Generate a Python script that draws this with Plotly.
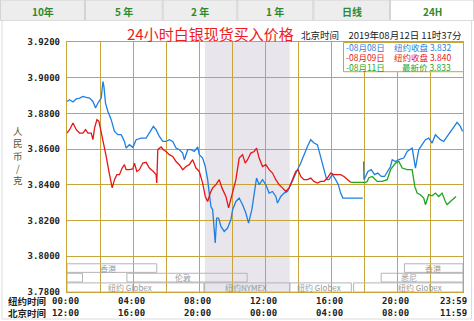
import plotly.graph_objects as go

# ---------------- data (hours NY time, price CNY/g) ----------------
blue1_h = [0, 0.157, 0.363, 0.562, 0.762, 0.967, 1.167, 1.366, 1.572, 1.729, 1.874, 2.074, 2.177, 2.237, 2.334,
           2.479, 2.678, 2.878, 3.083, 3.283, 3.482, 3.585, 3.785, 3.990, 4.190, 4.492, 4.794, 4.994, 5.236,
           5.399, 5.599, 5.804, 6.004, 6.203, 6.409, 6.608, 6.808, 7.013, 7.110, 7.316, 7.515, 7.715, 7.920,
           8.017, 8.222, 8.380, 8.525, 8.621, 8.724, 8.827, 8.984, 9.069, 9.190, 9.329, 9.528, 9.734, 9.933,
           10.036, 10.236, 10.435, 10.641, 10.840, 11.004, 11.203, 11.342, 11.487, 11.644, 11.850, 12.050,
           12.249, 12.455, 12.654, 12.757, 12.956, 13.156, 13.362, 13.561, 13.761, 13.966, 14.166, 14.365,
           14.571, 14.770, 14.970, 15.175, 15.375, 15.574, 15.738, 15.877, 16.082, 16.282, 16.445, 16.584,
           16.723, 16.928, 17.231, 17.733, 17.932]
blue1_v = [3.8867, 3.8877, 3.8864, 3.8881, 3.8886, 3.8895, 3.8890, 3.8886, 3.8867, 3.8830, 3.8858, 3.8886,
           3.8979, 3.8951, 3.8858, 3.8811, 3.8765, 3.8699, 3.8681, 3.8681, 3.8643, 3.8606, 3.8625, 3.8610,
           3.8653, 3.8662, 3.8662, 3.8690, 3.8727, 3.8709, 3.8671, 3.8643, 3.8643, 3.8653, 3.8643, 3.8606,
           3.8597, 3.8578, 3.8541, 3.8597, 3.8597, 3.8587, 3.8612, 3.8569, 3.8550, 3.8503, 3.8429, 3.8354,
           3.8279, 3.8261, 3.8074, 3.8214, 3.8214, 3.8167, 3.8139, 3.8158, 3.8205, 3.8261, 3.8307, 3.8326,
           3.8289, 3.8242, 3.8186, 3.8261, 3.8354, 3.8438, 3.8401, 3.8429, 3.8401, 3.8354, 3.8363, 3.8335,
           3.8298, 3.8335, 3.8354, 3.8363, 3.8401, 3.8447, 3.8485, 3.8522, 3.8569, 3.8615, 3.8653, 3.8634,
           3.8625, 3.8559, 3.8494, 3.8429, 3.8429, 3.8457, 3.8429, 3.8401, 3.8354, 3.8326, 3.8326, 3.8326,
           3.8326, 3.8326]

blue2_h = [17.975, 18.00, 18.096, 18.235, 18.440, 18.640, 18.839, 19.045, 19.244, 19.444, 19.607, 19.710,
           19.909, 20.109, 20.411, 20.617, 20.919, 21.118, 21.318, 21.524, 21.723, 21.923, 22.128, 22.328,
           22.630, 22.830, 23.035, 23.235, 23.434, 23.640, 23.839, 23.978]
blue2_v = [3.8531, 3.8429, 3.8447, 3.8475, 3.8485, 3.8457, 3.8466, 3.8447, 3.8447, 3.8475, 3.8503, 3.8541,
           3.8531, 3.8541, 3.8550, 3.8587, 3.8606, 3.8494, 3.8597, 3.8625, 3.8653, 3.8662, 3.8634, 3.8681,
           3.8653, 3.8643, 3.8671, 3.8699, 3.8727, 3.8750, 3.8727, 3.8699]

red_h = [0, 0.157, 0.363, 0.562, 0.762, 0.967, 1.125, 1.270, 1.469, 1.572, 1.669, 1.814, 1.935, 2.074, 2.213,
         2.376, 2.539, 2.636, 2.739, 2.878, 3.023, 3.180, 3.343, 3.482, 3.585, 3.785, 3.990, 4.087, 4.232,
         4.389, 4.595, 4.794, 4.994, 5.236, 5.399, 5.441, 5.502, 5.701, 5.840, 6.004, 6.203, 6.409, 6.608,
         6.808, 7.013, 7.213, 7.412, 7.618, 7.817, 8.017, 8.222, 8.380, 8.525, 8.682, 8.827, 9.027, 9.226,
         9.389, 9.528, 9.631, 9.794, 9.933, 10.097, 10.236, 10.435, 10.641, 10.798, 10.943, 11.143, 11.342,
         11.487, 11.644, 11.850, 12.050, 12.249, 12.455, 12.654, 12.854, 13.059, 13.259, 13.458, 13.664,
         13.863, 14.002, 14.166, 14.365, 14.571, 14.770, 14.970, 15.175, 15.375, 15.574, 15.780, 15.979,
         16.179, 16.384, 16.584, 16.784, 16.989, 17.189]
red_v = [3.8690, 3.8709, 3.8746, 3.8709, 3.8690, 3.8690, 3.8709, 3.8690, 3.8690, 3.8653, 3.8718, 3.8765,
         3.8755, 3.8699, 3.8625, 3.8559, 3.8475, 3.8429, 3.8383, 3.8429, 3.8457, 3.8457, 3.8494, 3.8513,
         3.8485, 3.8485, 3.8489, 3.8522, 3.8475, 3.8485, 3.8522, 3.8526, 3.8494, 3.8475, 3.8457, 3.8410,
         3.8597, 3.8612, 3.8597, 3.8587, 3.8569, 3.8559, 3.8531, 3.8513, 3.8485, 3.8503, 3.8513, 3.8541,
         3.8494, 3.8475, 3.8410, 3.8335, 3.8307, 3.8354, 3.8383, 3.8401, 3.8429, 3.8383, 3.8354, 3.8335,
         3.8271, 3.8326, 3.8373, 3.8429, 3.8550, 3.8569, 3.8522, 3.8541, 3.8578, 3.8587, 3.8606, 3.8550,
         3.8503, 3.8513, 3.8485, 3.8466, 3.8429, 3.8401, 3.8383, 3.8363, 3.8383, 3.8429, 3.8475, 3.8485,
         3.8447, 3.8429, 3.8429, 3.8438, 3.8419, 3.8410, 3.8419, 3.8419, 3.8438, 3.8466, 3.8457, 3.8457,
         3.8457, 3.8447, 3.8429, 3.8414]

green_h = [17.189, 17.733, 18.096, 18.19, 18.296, 18.501, 18.803, 19.105, 19.407, 19.607, 19.909, 20.109,
           20.314, 20.617, 20.919, 21.076, 21.221, 21.421, 21.620, 21.723, 21.923, 22.128, 22.328, 22.527,
           22.733, 22.932, 23.035, 23.235, 23.434, 23.579]
green_v = [3.8414, 3.8415, 3.8414, 3.8419, 3.8440, 3.8447, 3.8419, 3.8419, 3.8429, 3.8485, 3.8522, 3.8531,
           3.8494, 3.8485, 3.8485, 3.8391, 3.8354, 3.8345, 3.8326, 3.8289, 3.8345, 3.8339, 3.8354, 3.8335,
           3.8354, 3.8307, 3.8289, 3.8307, 3.8326, 3.8335]

y_ticks = [3.78, 3.80, 3.82, 3.84, 3.86, 3.88, 3.90, 3.92]
ny_labels = ["00:00", "04:00", "08:00", "12:00", "16:00", "20:00", "23:59"]
bj_labels = ["12:00", "16:00", "20:00", "00:00", "04:00", "08:00", "11:59"]
label_hours = [0, 4, 8, 12, 16, 20, 23.5]
tabs = ["10年", "5 年", "2 年", "1 年", "日线", "24H"]
legend_rows = [("-08月08日", "纽约收盘 3.832"), ("-08月09日", "纽约收盘 3.840"), ("-08月11日", "最新价 3.833")]

# sessions: (row, start_h, end_h)
sessions = [(1, 0, 5.44), (1, 20.45, 24),
            (2, 0, 0.94), (2, 3.63, 10.92), (2, 19.04, 24),
            (3, 0, 8.30), (3, 8.34, 13.5), (3, 13.5, 17.23), (3, 17.37, 24)]
session_labels = [(1, 2.5, "香港"), (2, 7.06, "伦敦"), (3, 3.83, "纽约 Globex"), (3, 10.84, "纽约NYMEX"),
                  (3, 15.25, "纽约 Globex"), (2, 20.75, "悉尼"), (1, 22.2, "香港"), (3, 21.42, "纽约 Globex")]
rows_y = {1: (3.7910, 3.7958), 2: (3.7856, 3.7905), 3: (3.7800, 3.7851)}

BLUE = "#1f7fe0"
RED = "#e61616"
GREEN = "#1fa51f"
GRID = "#c8a53c"

W, H = 474, 321
ML, MR, MT, MB = 67, 11, 42, 29
PW, PH = W - ML - MR, H - MT - MB


def px(x):
    return (x - ML) / PW


def py(y):
    return (H - MB - y) / PH


def hx(h):
    return h / 24.0


fig = go.Figure()
line_w = 1.3
fig.add_trace(go.Scatter(x=blue1_h, y=blue1_v, mode="lines", line=dict(color=BLUE, width=line_w), hoverinfo="skip"))
fig.add_trace(go.Scatter(x=blue2_h, y=blue2_v, mode="lines", line=dict(color=BLUE, width=line_w), hoverinfo="skip"))
fig.add_trace(go.Scatter(x=red_h, y=red_v, mode="lines", line=dict(color=RED, width=line_w), hoverinfo="skip"))
fig.add_trace(go.Scatter(x=green_h, y=green_v, mode="lines", line=dict(color=GREEN, width=line_w), hoverinfo="skip"))

shapes = []
# NYMEX shaded period
shapes.append(dict(type="rect", xref="x", yref="paper", x0=8.36, x1=13.5, y0=0, y1=1,
                   fillcolor="#e8e6ec", line=dict(width=0), layer="below"))
# session boxes
for r, a, b in sessions:
    y0, y1 = rows_y[r]
    shapes.append(dict(type="rect", xref="x", yref="y", x0=a, x1=b, y0=y0, y1=y1,
                       line=dict(color="#b4b4b4", width=1), fillcolor="rgba(0,0,0,0)", layer="above"))
# legend box
shapes.append(dict(type="rect", xref="paper", yref="paper", x0=px(343.5), x1=px(463.5), y0=py(71.7), y1=py(42.5),
                   fillcolor="white", line=dict(color=GRID, width=1), layer="above"))
# tabs
tab_edges = [0, 85, 162.7, 237.3, 313.3, 390, 474]
for i in range(len(tabs)):
    active = i == len(tabs) - 1
    shapes.append(dict(type="rect", xref="paper", yref="paper", x0=px(tab_edges[i] + 0.5), x1=px(tab_edges[i + 1] - 0.5),
                       y0=py(20.5), y1=py(0), fillcolor="white" if active else "#ededed",
                       line=dict(color="#d4d4d4", width=1), layer="below"))
# outer frame
shapes.append(dict(type="rect", xref="paper", yref="paper", x0=px(2), x1=px(471.5), y0=py(319), y1=py(20.5),
                   fillcolor="rgba(0,0,0,0)", line=dict(color="#dcdcdc", width=1), layer="below"))

ann = []
cjk = "Noto Sans CJK SC"
mono = "DejaVu Sans Mono"


def A(x, y, text, font, xanchor="center", yanchor="middle", xref="paper", yref="paper"):
    ann.append(dict(x=x, y=y, xref=xref, yref=yref, text=text, showarrow=False, font=font,
                    xanchor=xanchor, yanchor=yanchor))


for i, t in enumerate(tabs):
    A(px((tab_edges[i] + tab_edges[i + 1]) / 2), py(12), t, dict(family=cjk, size=10, color="#2e8a2e", weight="bold"))
A(px(210), py(34), "24小时白银现货买入价格", dict(family=cjk, size=15, color="#ee1c1c"))
A(px(299), py(35.5), "北京时间　2019年08月12日 11时37分", dict(family=cjk, size=9.5, color="#222222"), xanchor="left")
leg_colors = [BLUE, RED, GREEN]
for i, (a, b) in enumerate(legend_rows):
    yy = py(47 + 10 * i)
    A(px(344), yy, a, dict(family=cjk, size=8.5, color=leg_colors[i]), xanchor="left")
    A(px(453), yy, b, dict(family=cjk, size=8.5, color=leg_colors[i]), xanchor="right")
# y label
A(px(18), py(155), "人<br>民<br>币<br>/<br>克", dict(family=cjk, size=9.5, color="#5c5a3a"))
# x labels
A(px(48), py(301), "纽约时间", dict(family=cjk, size=9.5, color="#222222", weight="bold"), xanchor="right")
A(px(48), py(313), "北京时间", dict(family=cjk, size=9.5, color="#222222", weight="bold"), xanchor="right")
for h, a, b in zip(label_hours, ny_labels, bj_labels):
    xx = hx(h) - 1.5 / PW
    A(xx, py(301), a, dict(family=mono, size=9, color="#222222", weight="bold"))
    A(xx, py(313), b, dict(family=mono, size=9, color="#222222", weight="bold"))
# session labels
for r, h, t in session_labels:
    y0, y1 = rows_y[r]
    A(h, (y0 + y1) / 2, t, dict(family=cjk, size=8, color="#9a9a9a"), xref="x", yref="y")

fig.update_layout(
    width=W, height=H, margin=dict(l=ML, r=MR, t=MT, b=MB, pad=0),
    paper_bgcolor="white", plot_bgcolor="white", showlegend=False,
    shapes=shapes, annotations=ann,
    xaxis=dict(range=[0, 24], dtick=2, tick0=0, showgrid=True, gridcolor=GRID, gridwidth=1.3,
               showticklabels=False, zeroline=False, showline=True, linecolor=GRID, linewidth=1.3, mirror=True,
               ticks=""),
    yaxis=dict(range=[3.78, 3.92], tickvals=y_ticks, tickformat=".4f", showgrid=True, gridcolor=GRID, gridwidth=1.3,
               zeroline=False, showline=True, linecolor=GRID, linewidth=1.3, mirror=True, ticks="",
               ticklabelstandoff=4,
               tickfont=dict(family=mono, size=9, color="#222222", weight="bold")),
)

fig.write_html("out.html")
